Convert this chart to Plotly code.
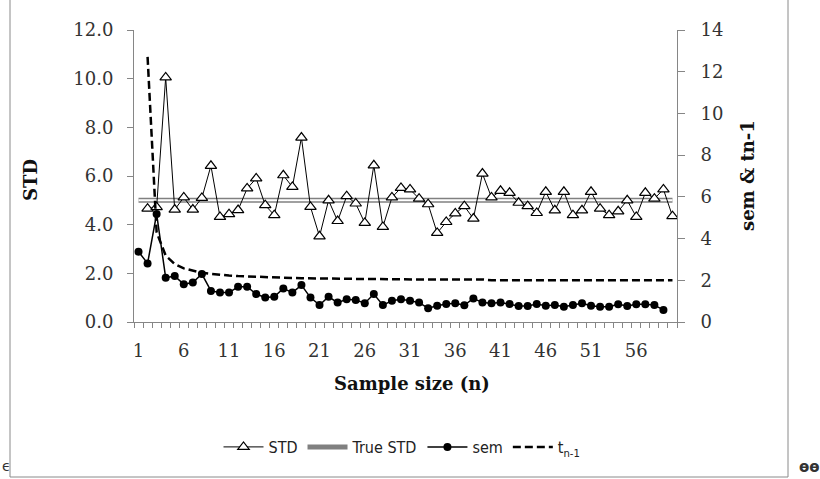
import plotly.graph_objects as go

# ---------------- data ----------------
n_std = list(range(2, 61))
std = [4.66, 4.72, 10.05, 4.62, 5.12, 4.62, 5.10, 6.42, 4.32, 4.43,
       4.60, 5.49, 5.90, 4.80, 4.39, 6.03, 5.55, 7.58, 4.73, 3.52,
       5.00, 4.15, 5.17, 4.87, 4.07, 6.44, 3.91, 5.12, 5.51, 5.45,
       5.07, 4.84, 3.66, 4.11, 4.46, 4.76, 4.25, 6.10, 5.12, 5.39,
       5.31, 4.90, 4.76, 4.48, 5.35, 4.59, 5.35, 4.39, 4.59, 5.35,
       4.66, 4.39, 4.55, 5.00, 4.32, 5.31, 5.07, 5.45, 4.35]

n_true = list(range(1, 61))
true_std = [5.0] * 60

n_sem = list(range(1, 60))
sem = [3.37, 2.81, 5.18, 2.12, 2.20, 1.81, 1.89, 2.30, 1.49, 1.41,
       1.41, 1.69, 1.69, 1.34, 1.18, 1.21, 1.61, 1.41, 1.77, 1.17,
       0.81, 1.21, 0.93, 1.09, 1.05, 0.90, 1.34, 0.81, 1.02, 1.09,
       1.02, 0.93, 0.66, 0.78, 0.86, 0.90, 0.80, 1.13, 0.93, 0.90,
       0.93, 0.86, 0.77, 0.77, 0.86, 0.78, 0.81, 0.73, 0.81, 0.90,
       0.78, 0.73, 0.73, 0.85, 0.77, 0.85, 0.85, 0.81, 0.58]

n_t = list(range(2, 61))
t_vals = [12.71, 4.30, 3.18, 2.78, 2.57, 2.45, 2.36, 2.31, 2.26, 2.23,
          2.20, 2.18, 2.16, 2.14, 2.13, 2.12, 2.11, 2.10, 2.09, 2.09,
          2.08, 2.07, 2.07, 2.06, 2.06, 2.06, 2.05, 2.05, 2.05, 2.04,
          2.04, 2.04, 2.04, 2.04, 2.04, 2.04, 2.04, 2.04, 2.00, 2.00,
          2.00, 2.00, 2.00, 2.00, 2.00, 2.00, 2.00, 2.00, 2.00, 2.00,
          2.00, 2.00, 2.00, 2.00, 2.00, 2.00, 2.00, 2.00, 2.00]

x_tickvals = [1, 6, 11, 16, 21, 26, 31, 36, 41, 46, 51, 56]
y_tickvals = [0, 2, 4, 6, 8, 10, 12]
y2_tickvals = [0, 2, 4, 6, 8, 10, 12, 14]

# ---------------- style ----------------
AX = '#868686'
TICKFONT = dict(family='DejaVu Serif', size=18, color='#333333')
TITLEFONT = dict(family='DejaVu Serif', size=18, color='#111111')
LEGFONT = dict(family='DejaVu Sans Condensed, Liberation Sans Narrow, Liberation Sans', size=16, color='#222222')

fig = go.Figure()
fig.add_trace(go.Scatter(x=n_true, y=true_std, name='True STD', mode='lines',
                         line=dict(color='#808080', width=5), legendrank=2))
fig.add_trace(go.Scatter(x=n_true, y=true_std, mode='lines', showlegend=False,
                         line=dict(color='white', width=2), hoverinfo='skip'))
fig.add_trace(go.Scatter(x=n_std, y=std, name='STD', mode='lines+markers', legendrank=1,
                         line=dict(color='black', width=1),
                         marker=dict(symbol='triangle-up', size=10, color='white',
                                     line=dict(color='black', width=1.2))))
fig.add_trace(go.Scatter(x=n_sem, y=sem, name='sem', yaxis='y2', mode='lines+markers', legendrank=3,
                         line=dict(color='black', width=1.5),
                         marker=dict(symbol='circle', size=8, color='black')))
fig.add_trace(go.Scatter(x=n_t, y=t_vals, name='t<sub>n-1</sub>', yaxis='y2', mode='lines', legendrank=4,
                         line=dict(color='black', width=2.5, dash='8px,4px')))

L, R, T, B = 134, 143, 30, 157
W, H = 820, 479
pw, ph = W - L - R, H - T - B

def px(xpix):
    return (xpix - L) / pw

def py(ypix):
    return (H - B - ypix) / ph

fig.update_layout(
    width=W, height=H,
    margin=dict(l=L, r=R, t=T, b=B),
    paper_bgcolor='white', plot_bgcolor='white',
    showlegend=True,
    legend=dict(orientation='h', x=px(402), xanchor='center', y=py(447), yanchor='middle',
                font=LEGFONT, bgcolor='rgba(0,0,0,0)', itemwidth=40, traceorder='normal'),
    xaxis=dict(range=[0.5, 60.5], tickmode='array', tickvals=x_tickvals,
               ticktext=[str(v) for v in x_tickvals], ticks='', tickfont=TICKFONT,
               showline=True, linecolor=AX, linewidth=1, showgrid=False, zeroline=False,
               ticklabelstandoff=12,
               minor=dict(tickmode='linear', tick0=0.5, dtick=1, ticks='outside',
                          ticklen=5, tickcolor=AX, tickwidth=1, showgrid=False)),
    yaxis=dict(range=[0, 12], tickmode='array', tickvals=y_tickvals, tickformat='.1f',
               ticks='outside', ticklen=6, tickcolor=AX, tickfont=TICKFONT,
               showline=True, linecolor=AX, linewidth=1, showgrid=False, zeroline=False,
               ticklabelstandoff=10),
    yaxis2=dict(range=[0, 14], tickmode='array', tickvals=y2_tickvals, overlaying='y', side='right',
                ticks='outside', ticklen=7, tickcolor=AX, tickfont=TICKFONT,
                showline=True, linecolor=AX, linewidth=1, showgrid=False, zeroline=False,
                ticklabelstandoff=12),
    shapes=[dict(type='rect', xref='paper', yref='paper', x0=px(10), x1=px(788),
                 y0=py(477), y1=py(-5), line=dict(color='#8a8a8a', width=1), fillcolor='rgba(0,0,0,0)',
                 layer='below')],
    annotations=[
        dict(text='<b>Sample size (n)</b>', xref='paper', yref='paper', x=px(412), y=py(383),
             showarrow=False, font=TITLEFONT, xanchor='center', yanchor='middle'),
        dict(text='<b>STD</b>', xref='paper', yref='paper', x=px(30), y=py(180), textangle=-90,
             showarrow=False, font=TITLEFONT, xanchor='center', yanchor='middle'),
        dict(text='<b>sem &amp; tn-1</b>', xref='paper', yref='paper', x=px(747), y=py(175), textangle=-90,
             showarrow=False, font=TITLEFONT, xanchor='center', yanchor='middle'),
        dict(text='ϵ', xref='paper', yref='paper', x=px(0), y=py(466), xanchor='left', yanchor='middle',
             showarrow=False, font=dict(family='DejaVu Sans', size=14, color='#333')),
        dict(text='<b>ɵɵ</b>', xref='paper', yref='paper', x=px(797), y=py(467), xanchor='left', yanchor='middle',
             showarrow=False, font=dict(family='DejaVu Sans', size=15, color='#333')),
    ],
)

fig.write_html('out.html')
